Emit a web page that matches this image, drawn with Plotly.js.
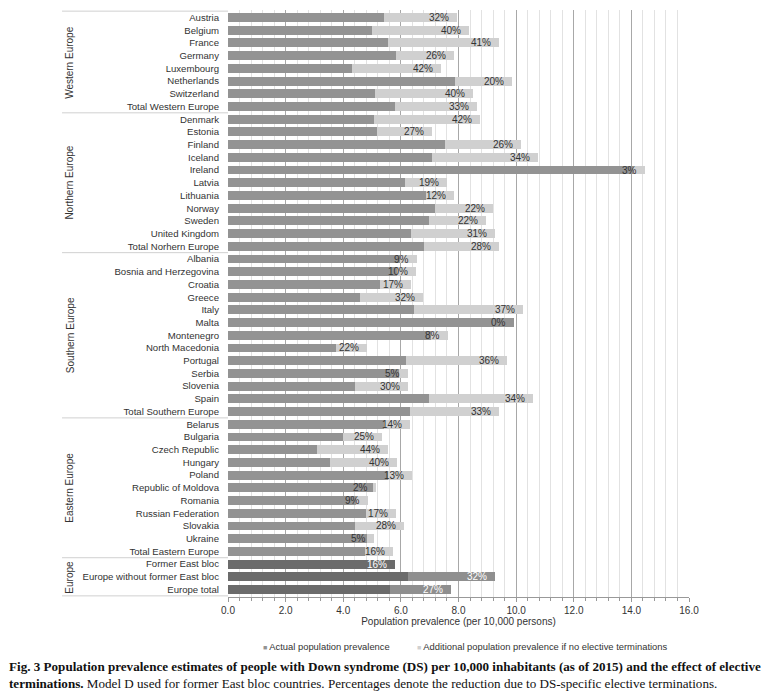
<!DOCTYPE html>
<html>
<head>
<meta charset="utf-8">
<script src="https://cdn.plot.ly/plotly-3.0.1.min.js"></script>
<style>html,body{margin:0;padding:0;background:#fff;}#chart{width:764px;height:700px;}</style>
</head>
<body>
<div id="chart"></div>
<script>
const categories = [
  "Austria","Belgium","France","Germany","Luxembourg","Netherlands","Switzerland","Total Western Europe",
  "Denmark","Estonia","Finland","Iceland","Ireland","Latvia","Lithuania","Norway","Sweden","United Kingdom","Total Norhern Europe",
  "Albania","Bosnia and Herzegovina","Croatia","Greece","Italy","Malta","Montenegro","North Macedonia","Portugal","Serbia","Slovenia","Spain","Total Southern Europe",
  "Belarus","Bulgaria","Czech Republic","Hungary","Poland","Republic of Moldova","Romania","Russian Federation","Slovakia","Ukraine","Total Eastern Europe",
  "Former East bloc","Europe without former East bloc","Europe total"
];
const actual = [
  5.43,4.99,5.54,5.82,4.31,7.88,5.10,5.80,
  5.07,5.18,7.53,7.09,14.05,6.15,6.88,7.17,6.98,6.35,6.81,
  5.96,5.88,5.28,4.58,6.46,9.91,7.04,3.75,6.18,5.95,4.41,6.98,6.32,
  5.43,4.00,3.10,3.54,5.57,5.02,4.43,4.79,4.41,4.82,4.76,
  4.87,6.24,5.63
];
const additional = [
  2.53,3.38,3.85,2.03,3.07,1.97,3.40,2.83,
  3.68,1.89,2.65,3.66,0.43,1.44,0.98,2.04,1.98,2.92,2.60,
  0.59,0.65,1.07,2.20,3.77,0.00,0.61,1.09,3.49,0.31,1.85,3.59,3.07,
  0.89,1.34,2.44,2.32,0.83,0.12,0.44,1.03,1.70,0.25,0.96,
  0.93,3.01,2.11
];
const reductionLabels = [
  "32%","40%","41%","26%","42%","20%","40%","33%",
  "42%","27%","26%","34%","3%","19%","12%","22%","22%","31%","28%",
  "9%","10%","17%","32%","37%","0%","8%","22%","36%","5%","30%","34%","33%",
  "14%","25%","44%","40%","13%","2%","9%","17%","28%","5%","16%",
  "16%","32%","27%"
];
const groupNames = ["Western Europe","Northern Europe","Southern Europe","Eastern Europe","Europe"];
const groupSizes = [8,11,13,11,3];
const legendNames = ["Actual population prevalence","Additional population prevalence if no elective terminations"];

const nEurope = 3;
const isEuropeRow = categories.map((c,i)=> i >= categories.length - nEurope);
const darkColors = isEuropeRow.map(e => e ? "#6b6b6b" : "#939393");
const lightColors = isEuropeRow.map((e,i) => e ? (i === categories.length - nEurope ? "#6b6b6b" : "#8f8f8f") : "#d0d0d0");

const traces = [
  {type:"bar", orientation:"h", name:legendNames[0], y:categories, x:actual,
   marker:{color:darkColors}, hoverinfo:"skip", showlegend:false},
  {type:"bar", orientation:"h", name:legendNames[1], y:categories, x:additional,
   marker:{color:lightColors}, hoverinfo:"skip", showlegend:false}
];

const annotations = [];
categories.forEach((c,i)=>{
  annotations.push({
    x: actual[i] + additional[i], y: c, xref:"x", yref:"y",
    text: reductionLabels[i], showarrow:false, xanchor:"right", xshift:-6,
    font:{family:"Liberation Sans, Arial, sans-serif", size:10, color: isEuropeRow[i] ? "#ffffff" : "#333333"}
  });
});

const shapes = [];
let start = 0;
const boundaries = [-0.5];
groupSizes.forEach((s,g)=>{
  const end = start + s - 1;
  annotations.push({
    x:-0.343, xref:"paper", y:(start+end)/2, yref:"y", text:groupNames[g], showarrow:false,
    textangle:-90, xanchor:"center", yanchor:"middle",
    font:{family:"Liberation Sans, Arial, sans-serif", size:10, color:"#333333"}
  });
  start += s;
  boundaries.push(start - 0.5);
});
boundaries.forEach(b=>{
  shapes.push({type:"line", xref:"paper", x0:-0.36, x1:0, yref:"y", y0:b, y1:b,
    line:{color:"#d0d0d0", width:1}});
});

// legend drawn as annotations with small square markers
const legendX = [0.072, 0.405];
const legendColors = ["#939393", "#d0d0d0"];
legendNames.forEach((n,k)=>{
  annotations.push({
    xref:"paper", yref:"paper", x:legendX[k], y:-0.0835, xanchor:"left", yanchor:"middle",
    showarrow:false,
    text:'<span style="color:' + legendColors[k] + ';font-size:7px">■</span> ' + n,
    font:{family:"Liberation Sans, Arial, sans-serif", size:9.4, color:"#333333"}
  });
});

annotations.push({
  xref:"paper", yref:"paper", x:-0.479, y:-0.103, xanchor:"left", yanchor:"top", align:"left",
  showarrow:false,
  text:"<b>Fig. 3 Population prevalence estimates of people with Down syndrome (DS) per 10,000 inhabitants (as of 2015) and the effect of elective<br>terminations.</b> Model D used for former East bloc countries. Percentages denote the reduction due to DS-specific elective terminations.",
  font:{family:"Liberation Serif, Times New Roman, serif", size:13.1, color:"#111111"}
});

const layout = {
  width:764, height:700,
  margin:{l:228, r:75, t:10, b:103},
  paper_bgcolor:"#ffffff", plot_bgcolor:"#ffffff",
  barmode:"stack", bargap:0.3,
  font:{family:"Liberation Sans, Arial, sans-serif", size:10, color:"#333333"},
  xaxis:{
    range:[0,16], dtick:2, tick0:0, tickformat:".1f",
    showgrid:true, gridcolor:"#a8a8a8", gridwidth:1,
    showline:true, linecolor:"#999999", linewidth:1,
    ticks:"outside", ticklen:4, tickcolor:"#999999",
    minor:{dtick:0.4, tick0:0, showgrid:true, gridcolor:"#e2e2e2", ticks:"outside", ticklen:3, tickcolor:"#999999"},
    zeroline:false, fixedrange:true,
    tickfont:{size:10, color:"#333333"},
    title:{text:"Population prevalence (per 10,000 persons)", standoff:1, font:{size:10, color:"#333333"}}
  },
  yaxis:{
    type:"category", autorange:"reversed", showgrid:false, zeroline:false, showline:false,
    ticks:"", tickfont:{size:9.6, color:"#333333"}, fixedrange:true, ticklabelstandoff:8
  },
  showlegend:false,
  annotations:annotations,
  shapes:shapes
};

Plotly.newPlot("chart", traces, layout, {displayModeBar:false, staticPlot:true});
</script>
</body>
</html>
